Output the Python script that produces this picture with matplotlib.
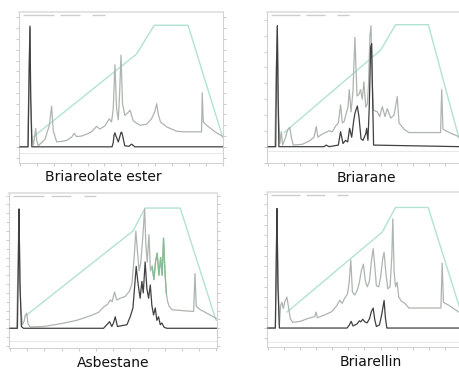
import numpy as np
import matplotlib.pyplot as plt

# ---- data (x = minutes tick units, y = tick units) ----
names = ['Briareolate ester', 'Briarane', 'Asbestane', 'Briarellin']

# Briareolate ester
p1_gray_t = [0, 0.45, 0.55, 0.59, 0.63, 0.71, 0.79, 0.87, 0.93, 0.99, 1.08, 1.48, 1.74, 1.87, 1.97,
             2.17, 2.47, 2.76, 3.06, 3.2, 3.35, 3.65, 3.98, 4.24, 4.54, 4.73, 5.03, 5.29, 5.42, 5.52,
             5.62, 5.72, 5.82, 5.9, 5.98, 6.07, 6.21, 6.41, 6.51, 6.71, 7.1, 7.5, 7.79, 7.99, 8.09,
             8.19, 8.32, 8.68, 9.27, 9.66, 10.75, 10.79, 10.85, 11.05, 11.54, 12.03]
p1_gray_v = [0, 0, 8.0, 11.0, 4.2, 1.0, 0.15, 1.0, 1.7, 0.6, 0.1, 0.7, 2.0, 3.77, 1.5,
             0.46, 0.5, 0.6, 0.9, 1.25, 0.95, 1.0, 1.2, 1.4, 1.9, 1.65, 1.95, 2.6, 2.3, 3.5,
             7.6, 3.5, 2.5, 5.0, 8.5, 4.0, 2.9, 3.2, 3.4, 2.4, 2.0, 2.1, 2.6, 3.3, 4.0,
             3.0, 2.3, 1.85, 1.45, 1.39, 1.39, 5.0, 2.3, 2.0, 1.4, 0.93]
p1_black_t = [0, 0.48, 0.54, 0.59, 0.63, 0.7, 5.45, 5.52, 5.57, 5.62, 5.68, 5.82, 5.92, 5.97, 6.02,
              6.08, 6.2, 6.45, 6.61, 6.8, 12]
p1_black_v = [0, 0, 7.0, 11.2, 5.0, 0, 0, 0.4, 1.1, 1.3, 1.0, 0.45, 1.0, 1.3, 1.36,
              1.0, 0.1, 0.05, 0.25, 0, 0]
p1_teal_t = [0.79, 6.9, 7.95, 9.95, 12.0]
p1_teal_v = [0.93, 8.6, 11.27, 11.27, 0.9]

# Briarane
p2_gray_t = [0, 0.41, 0.5, 0.56, 0.64, 0.72, 0.81, 0.89, 1.04, 1.2, 1.33, 1.45, 1.55, 2.11, 2.53,
             2.84, 2.98, 3.08, 3.35, 3.56, 3.77, 3.98, 4.18, 4.35, 4.49, 4.6, 4.72, 4.84, 4.95, 5.03,
             5.14, 5.26, 5.38, 5.51, 5.63, 5.73, 5.84, 5.94, 6.05, 6.15, 6.23, 6.31, 6.38, 6.46, 6.54,
             6.77, 6.92, 7.08, 7.25, 7.39, 7.6, 7.81, 8.01, 8.12, 8.43, 8.74, 10.7, 10.77, 10.85,
             11.33, 11.84, 12.0]
p2_gray_v = [0, 0, 5.0, 7.6, 2.0, 0.2, 0.95, 0.1, 0.5, 1.05, 1.22, 0.5, 0.1, 0.15, 0.35,
             0.6, 1.27, 0.6, 0.8, 0.9, 1.0, 0.95, 1.3, 1.5, 2.64, 1.5, 1.6, 2.1, 2.5, 3.6,
             2.2, 3.5, 6.9, 3.2, 3.3, 3.6, 3.0, 4.1, 2.5, 2.7, 4.0, 7.0, 7.64, 4.0, 2.3,
             2.2, 1.9, 2.53, 1.9, 2.4, 1.8, 2.0, 3.16, 1.5, 1.1, 0.89, 0.89, 3.6, 1.1,
             0.85, 0.63, 0.55]
p2_black_t = [0, 0.46, 0.51, 0.56, 0.61, 0.66, 3.46, 3.6, 3.77, 4.35, 4.49, 4.64, 4.8, 4.93, 5.05,
              5.18, 5.3, 5.38, 5.53, 5.63, 5.76, 5.88, 6.05, 6.11, 6.19, 6.27, 6.36, 6.42, 6.48,
              6.54, 12]
p2_black_v = [0, 0, 5.0, 7.64, 3.0, 0, 0, 0.1, 0, 0.1, 0.95, 0.2, 0.4, 0.3, 1.16,
              0.6, 1.6, 2.1, 2.57, 1.9, 0.5, 0.4, 0.8, 1.16, 0.4, 2.5, 6.3, 6.5, 3.0,
              0.1, 0]
p2_teal_t = [1.0, 6.98, 7.91, 9.94, 11.84, 12.0]
p2_teal_v = [0.9, 6.1, 7.7, 7.7, 0.55, 0.3]

# Asbestane
p3_gray_t = [0, 0.39, 0.47, 0.52, 0.58, 0.64, 0.72, 0.82, 0.89, 0.97, 1.05, 1.17, 1.94, 2.91, 3.88,
             4.66, 5.15, 5.44, 5.67, 5.83, 5.94, 6.08, 6.21, 6.41, 6.7, 6.95, 7.09, 7.22, 7.32, 7.42,
             7.51, 7.61, 7.73, 7.83, 7.9, 7.98, 8.08, 8.17, 8.27, 8.37, 8.47, 8.56, 8.66, 8.76, 8.85,
             8.93, 9.01, 9.09, 9.17, 9.26, 9.42, 10.0, 10.68, 10.76, 10.83, 11.07, 11.55, 12.0]
p3_gray_v = [0, 0, 8.0, 13.3, 4.5, 2.0, 0.4, 0.8, 1.5, 1.7, 0.5, 0.15, 0.2, 0.5, 0.9,
             1.4, 1.8, 2.4, 2.7, 3.2, 3.0, 4.1, 3.2, 3.4, 3.6, 4.2, 5.0, 8.0, 11.0, 8.5,
             6.5, 7.5, 10.5, 13.5, 9.5, 7.5, 10.6, 6.5, 7.0, 5.5, 7.6, 8.5, 6.0, 8.0, 6.0,
             10.2, 6.5, 4.0, 3.0, 2.5, 2.1, 2.0, 1.9, 6.2, 2.5, 2.1, 1.6, 1.1]
p3_black_t = [0, 0.43, 0.49, 0.52, 0.58, 0.66, 0.78, 5.44, 5.63, 5.79, 5.92, 6.02, 6.12, 6.25, 6.5,
              6.8, 6.99, 7.15, 7.26, 7.34, 7.42, 7.5, 7.57, 7.67, 7.75, 7.86, 7.96, 8.06, 8.16, 8.25,
              8.35, 8.45, 8.54, 8.64, 8.74, 8.83, 8.97, 9.13, 12]
p3_black_v = [0, 0, 8.0, 13.5, 5.0, 0.2, 0, 0, 0.4, 0.75, 0.2, 0.6, 1.3, 0.2, 0.3,
              0.4, 1.3, 2.3, 5.0, 7.0, 5.5, 4.3, 3.4, 5.3, 4.0, 7.5, 4.5, 3.4, 4.9, 2.6,
              1.5, 2.3, 0.9, 1.3, 0.4, 0.6, 0.1, 0, 0]
p3_teal_t = [0.9, 7.15, 7.86, 9.9, 11.95, 12.0]
p3_teal_v = [1.4, 11.0, 13.6, 13.6, 1.1, 0.9]

# Briarellin
p4_gray_t = [0, 0.46, 0.52, 0.56, 0.62, 0.71, 0.79, 0.87, 0.95, 1.06, 1.18, 1.29, 1.39, 1.54, 2.01,
             2.53, 2.9, 2.99, 3.07, 3.57, 3.98, 4.29, 4.46, 4.61, 4.77, 4.94, 5.04, 5.15, 5.25, 5.39,
             5.56, 5.68, 5.81, 5.93, 6.06, 6.18, 6.31, 6.43, 6.54, 6.64, 6.74, 6.89, 7.01, 7.14, 7.22,
             7.32, 7.45, 7.59, 7.7, 7.76, 7.84, 7.93, 8.03, 8.13, 8.3, 8.51, 8.76, 10.75, 10.83, 10.91,
             11.24, 11.87, 12.0]
p4_gray_v = [0, 0, 7.0, 11.4, 5.1, 0.3, 2.2, 2.5, 1.9, 2.6, 3.0, 1.9, 0.9, 0.55, 0.65,
             0.95, 1.1, 1.55, 1.0, 1.3, 1.6, 2.2, 2.7, 2.4, 2.9, 3.3, 4.3, 6.6, 3.5, 3.2,
             3.7, 4.4, 5.6, 6.2, 4.5, 4.0, 4.6, 6.5, 7.7, 6.0, 4.1, 4.0, 5.0, 6.8, 7.35,
             5.5, 3.8, 4.0, 7.0, 10.6, 5.5, 4.0, 4.45, 3.0, 2.6, 2.4, 1.94, 1.94, 6.3, 2.5,
             2.2, 1.55, 1.4]
p4_black_t = [0, 0.46, 0.52, 0.56, 0.62, 0.71, 4.92, 5.06, 5.17, 5.29, 5.54, 5.68, 5.77, 5.89, 6.02,
              6.16, 6.31, 6.43, 6.54, 6.64, 6.74, 6.93, 7.07, 7.22, 7.3, 7.39, 12]
p4_black_v = [0, 0, 7.0, 11.6, 4.0, 0, 0, 0.3, 0.65, 0.2, 0.4, 0.7, 0.6, 0.85, 0.6,
              0.5, 0.9, 1.6, 1.94, 0.8, 0.15, 0.3, 1.3, 2.68, 1.0, 0, 0]
p4_teal_t = [1.18, 7.1, 7.93, 9.96, 11.87, 12.0]
p4_teal_v = [1.55, 9.3, 11.7, 11.7, 2.2, 1.55]

# axes boxes in pixels (left, top, right, bottom) and y ranges
W, H = 459, 370
boxes = [(19, 12, 223, 163), (267, 12, 461.5, 163), (9, 193, 217, 348), (267, 192, 461, 347)]
xlims = [(-0.06, 12.02), (-0.08, 12.0), (-0.06, 12.04), (-0.06, 12.0)]
ylims = [(-1.5, 12.5), (-1.03, 8.5), (-2.23, 15.3), (-1.84, 13.2)]
low_lines = [-0.56, -0.3, -1.4, -1.35]
label_pos = [(103.5, 177), (366, 178), (113, 363), (371, 362)]

panels = [
    (p1_gray_t, p1_gray_v, p1_black_t, p1_black_v, p1_teal_t, p1_teal_v),
    (p2_gray_t, p2_gray_v, p2_black_t, p2_black_v, p2_teal_t, p2_teal_v),
    (p3_gray_t, p3_gray_v, p3_black_t, p3_black_v, p3_teal_t, p3_teal_v),
    (p4_gray_t, p4_gray_v, p4_black_t, p4_black_v, p4_teal_t, p4_teal_v),
]

fig = plt.figure(figsize=(W / 100, H / 100), dpi=100)

for i, (gt, gv, bt, bv, tt, tv) in enumerate(panels):
    l, t, r, b = boxes[i]
    ax = fig.add_axes([l / W, 1 - b / H, (r - l) / W, (b - t) / H])
    ax.set_xlim(*xlims[i])
    ax.set_ylim(*ylims[i])

    ax.axhline(low_lines[i], color='#e4e4e4', lw=0.6, zorder=1)
    ax.plot(tt, tv, color='#b2e2d2', lw=1.0, zorder=2)
    ax.plot(gt, gv, color='#adb5ae', lw=0.9, zorder=3)
    if i == 2:
        # greenish stretch of the grey trace
        gt_a = np.array(gt)
        m = (gt_a >= 8.2) & (gt_a <= 9.1)
        ax.plot(gt_a[m], np.array(gv)[m], color='#86bd93', lw=0.9, zorder=3)
    ax.plot(bt, bv, color='#404040', lw=0.9, zorder=4)

    for sp in ax.spines.values():
        sp.set_color('#d2d2d2')
        sp.set_linewidth(0.8)
    ax.spines['top'].set_color('#dedede')
    ax.spines['top'].set_linewidth(1.2)
    ax.set_xticks(np.arange(0, 13))
    ax.set_yticks(np.arange(int(np.ceil(ylims[i][0])), int(ylims[i][1]) + 1))
    ax.tick_params(axis='both', direction='out', length=2, width=0.5, color='#b8b8b8',
                   labelleft=False, labelbottom=False, right=True)

    # blurred legend strip at the top of each panel
    for x0, x1 in [(0.02, 0.17), (0.20, 0.30), (0.36, 0.42)]:
        ax.plot([x0, x1], [0.982, 0.982], transform=ax.transAxes, color='#cdcdcd',
                lw=1.0, solid_capstyle='butt', clip_on=False)

    fig.text(label_pos[i][0] / W, 1 - label_pos[i][1] / H, names[i], ha='center', va='center',
             fontsize=10, color='#111111', family='DejaVu Sans')

plt.savefig('out.png', dpi=100)
